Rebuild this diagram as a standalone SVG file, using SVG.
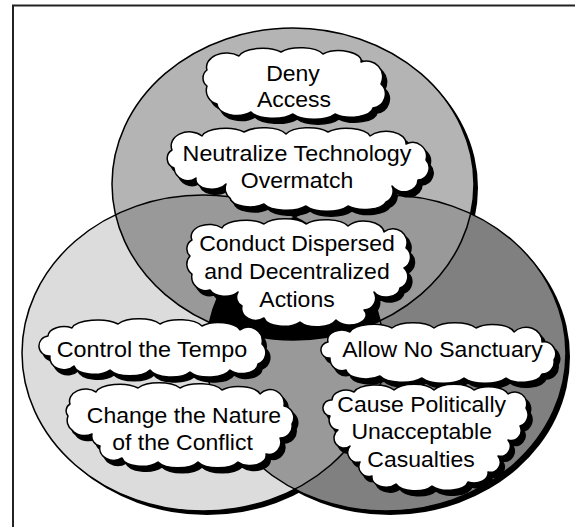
<svg xmlns="http://www.w3.org/2000/svg" xmlns:xlink="http://www.w3.org/1999/xlink" width="575" height="527" viewBox="0 0 575 527">
<style>
.frame{fill:#fff;stroke:#222;stroke-width:2}
.outline{fill:none;stroke:#000;stroke-width:1.5}
.vshadow{fill:#000}
.cloud{fill:#fff;stroke:#000;stroke-width:1.5;stroke-linejoin:round}
.cshadow{fill:#000;stroke:#000;stroke-width:1.5}
text{font-family:"Liberation Sans",Arial,Helvetica,sans-serif;font-size:21.5px;text-anchor:middle;fill:#000}
</style>
<defs>
<ellipse id="eTop" cx="293" cy="184" rx="181" ry="156"/>
<ellipse id="eLeft" cx="203" cy="353" rx="181" ry="158"/>
<ellipse id="eRight" cx="386" cy="353" rx="180" ry="158"/>
<clipPath id="cpTop"><ellipse cx="293" cy="184" rx="181" ry="156"/></clipPath>
<clipPath id="cpLeft"><ellipse cx="203" cy="353" rx="181" ry="158"/></clipPath>
<path id="pDeny" d="M207,70 a20 14 0 0 1 32,-14 a24 10 0 0 1 42,-4 a24 10 0 0 1 42,2 a22 10 0 0 1 38,8 a16 16 0 0 1 20,22 a14 14 0 0 1 -8,24 a22 10 0 0 1 -38,6 a24 10 0 0 1 -42,0 a24 10 0 0 1 -42,-2 a20 12 0 0 1 -34,-8 a14 14 0 0 1 -10,-18 a10 10 0 0 1 0,-16 Z"/>
<path id="pNeut" d="M172,150 a18 14 0 0 1 30,-14 a24 10 0 0 1 42,-4 a24 10 0 0 1 42,2 a24 10 0 0 1 42,-2 a24 10 0 0 1 42,4 a20 12 0 0 1 36,8 a14 14 0 0 1 20,16 a12 12 0 0 1 -8,20 a14 12 0 0 1 -26,6 a12 12 0 0 1 -6,16 a22 10 0 0 1 -38,4 a24 10 0 0 1 -42,0 a24 10 0 0 1 -42,-2 a20 10 0 0 1 -34,-6 a12 12 0 0 1 -4,-14 a16 10 0 0 1 -30,-6 a14 14 0 0 1 -22,-10 a10 10 0 0 1 -2,-18 Z"/>
<path id="pCond" d="M192,240 a18 12 0 0 1 30,-12 a24 10 0 0 1 42,-4 a24 10 0 0 1 42,0 a24 10 0 0 1 42,2 a20 12 0 0 1 36,6 a14 14 0 0 1 22,16 a12 12 0 0 1 -2,20 a12 12 0 0 1 -4,20 a14 10 0 0 1 -26,4 a12 12 0 0 1 -10,18 a16 10 0 0 1 -28,10 a20 10 0 0 1 -36,2 a20 10 0 0 1 -36,-4 a14 12 0 0 1 -22,-12 a10 10 0 0 1 -4,-14 a16 10 0 0 1 -28,-2 a14 14 0 0 1 -18,-16 a12 12 0 0 1 -2,-18 a10 10 0 0 1 2,-16 Z"/>
<path id="pTempo" d="M48,336 a16 10 0 0 1 24,-8 a26 10 0 0 1 46,-4 a24 10 0 0 1 42,0 a24 10 0 0 1 42,2 a22 10 0 0 1 38,4 a14 14 0 0 1 22,14 a12 12 0 0 1 -4,20 a16 10 0 0 1 -28,6 a22 10 0 0 1 -40,2 a22 10 0 0 1 -40,-2 a22 10 0 0 1 -40,0 a20 10 0 0 1 -36,-4 a14 12 0 0 1 -24,-10 a10 10 0 0 1 -2,-20 Z"/>
<path id="pNature" d="M70,404 a16 12 0 0 1 26,-12 a24 10 0 0 1 42,-4 a24 10 0 0 1 42,0 a24 10 0 0 1 42,2 a22 10 0 0 1 38,4 a14 14 0 0 1 24,12 a12 12 0 0 1 8,18 a12 12 0 0 1 -12,14 a12 12 0 0 1 -14,16 a16 10 0 0 1 -28,8 a22 10 0 0 1 -40,0 a22 10 0 0 1 -40,0 a20 10 0 0 1 -36,-4 a14 12 0 0 1 -22,-12 a10 10 0 0 1 -8,-12 a14 10 0 0 1 -20,-4 a12 12 0 0 1 -4,-14 a8 8 0 0 1 2,-12 Z"/>
<path id="pSanct" d="M328,342 a14 10 0 0 1 22,-10 a24 10 0 0 1 42,-4 a24 10 0 0 1 42,0 a24 10 0 0 1 42,0 a22 10 0 0 1 38,4 a16 14 0 0 1 28,10 a12 12 0 0 1 12,18 a12 12 0 0 1 -12,14 a20 10 0 0 1 -36,4 a24 10 0 0 1 -42,0 a24 10 0 0 1 -42,0 a24 10 0 0 1 -42,-2 a20 10 0 0 1 -34,-6 a12 12 0 0 1 -16,-12 a8 8 0 0 1 -2,-16 Z"/>
<path id="pCas" d="M332,400 a14 10 0 0 1 22,-8 a22 10 0 0 1 40,-2 a22 10 0 0 1 40,0 a22 10 0 0 1 40,0 a20 10 0 0 1 34,4 a12 12 0 0 1 18,14 a12 12 0 0 1 -6,18 a10 10 0 0 1 -12,14 a10 10 0 0 1 -10,16 a10 10 0 0 1 -10,16 a14 10 0 0 1 -20,10 a20 10 0 0 1 -36,4 a20 10 0 0 1 -36,-2 a14 10 0 0 1 -24,-8 a10 10 0 0 1 -12,-14 a10 10 0 0 1 -10,-16 a10 10 0 0 1 -12,-16 a10 10 0 0 1 -8,-14 a8 8 0 0 1 2,-16 Z"/>
</defs>

<rect class="frame" x="13" y="5.5" width="600" height="600"/>

<g id="venn">
<use xlink:href="#eTop" class="vshadow" transform="translate(4,4)"/>
<use xlink:href="#eLeft" class="vshadow" transform="translate(4,4)"/>
<use xlink:href="#eRight" class="vshadow" transform="translate(4,4)"/>
<use xlink:href="#eTop" fill="#b4b4b4"/>
<use xlink:href="#eLeft" fill="#dcdcdc"/>
<use xlink:href="#eRight" fill="#808080"/>
<g clip-path="url(#cpTop)">
<use xlink:href="#eLeft" fill="#999999"/>
<use xlink:href="#eRight" fill="#999999"/>
</g>
<g clip-path="url(#cpLeft)">
<use xlink:href="#eRight" fill="#999999"/>
</g>
<g clip-path="url(#cpTop)"><g clip-path="url(#cpLeft)"><use xlink:href="#eRight" fill="#000"/></g></g>
<use xlink:href="#eTop" class="outline"/>
<use xlink:href="#eLeft" class="outline"/>
<use xlink:href="#eRight" class="outline"/>
</g>

<g id="connectors"/>

<g id="deny-access">
<use xlink:href="#pDeny" class="cshadow" transform="translate(4,5)"/>
<use xlink:href="#pDeny" class="cloud"/>
<text x="293" y="81" textLength="53.7" lengthAdjust="spacingAndGlyphs">Deny</text>
<text x="294" y="107" textLength="74.1" lengthAdjust="spacingAndGlyphs">Access</text>
</g>

<g id="neutralize-technology">
<use xlink:href="#pNeut" class="cshadow" transform="translate(4,5)"/>
<use xlink:href="#pNeut" class="cloud"/>
<text x="297" y="161" textLength="228.8" lengthAdjust="spacingAndGlyphs">Neutralize Technology</text>
<text x="297" y="187.5" textLength="112.5" lengthAdjust="spacingAndGlyphs">Overmatch</text>
</g>

<g id="conduct-dispersed">
<use xlink:href="#pCond" class="cshadow" transform="translate(4,5)"/>
<use xlink:href="#pCond" class="cloud"/>
<text x="297" y="251" textLength="195.6" lengthAdjust="spacingAndGlyphs">Conduct Dispersed</text>
<text x="297" y="279" textLength="185.4" lengthAdjust="spacingAndGlyphs">and Decentralized</text>
<text x="297" y="307" textLength="75.4" lengthAdjust="spacingAndGlyphs">Actions</text>
</g>

<g id="control-tempo">
<use xlink:href="#pTempo" class="cshadow" transform="translate(4,5)"/>
<use xlink:href="#pTempo" class="cloud"/>
<text x="152" y="357" textLength="190.5" lengthAdjust="spacingAndGlyphs">Control the Tempo</text>
</g>

<g id="change-nature">
<use xlink:href="#pNature" class="cshadow" transform="translate(4,5)"/>
<use xlink:href="#pNature" class="cloud"/>
<text x="184" y="423" textLength="194.3" lengthAdjust="spacingAndGlyphs">Change the Nature</text>
<text x="182.5" y="450" textLength="140.6" lengthAdjust="spacingAndGlyphs">of the Conflict</text>
</g>

<g id="allow-no-sanctuary">
<use xlink:href="#pSanct" class="cshadow" transform="translate(4,5)"/>
<use xlink:href="#pSanct" class="cloud"/>
<text x="442.5" y="357" textLength="200.7" lengthAdjust="spacingAndGlyphs">Allow No Sanctuary</text>
</g>

<g id="cause-casualties">
<use xlink:href="#pCas" class="cshadow" transform="translate(4,5)"/>
<use xlink:href="#pCas" class="cloud"/>
<text x="421.7" y="412" textLength="168.7" lengthAdjust="spacingAndGlyphs">Cause Politically</text>
<text x="421.7" y="439" textLength="140.6" lengthAdjust="spacingAndGlyphs">Unacceptable</text>
<text x="421" y="467" textLength="107.4" lengthAdjust="spacingAndGlyphs">Casualties</text>
</g>
</svg>
